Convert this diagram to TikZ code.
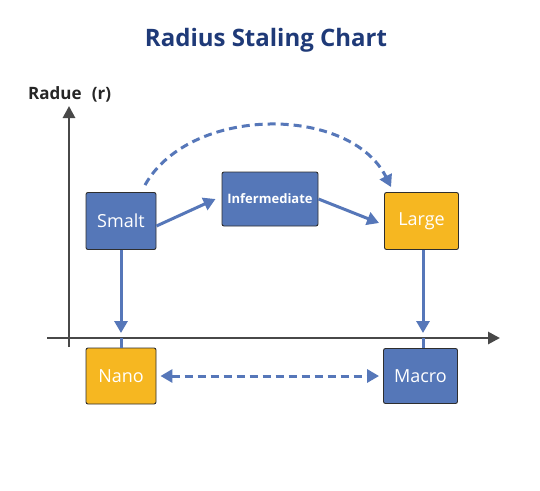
\documentclass[tikz,border=0pt]{standalone}
\usepackage{fontspec}
\setmainfont{Open Sans}
\usetikzlibrary{arrows.meta,calc}
\definecolor{boxblue}{HTML}{5577B8}
\definecolor{boxyellow}{HTML}{F6B721}
\definecolor{arrblue}{HTML}{5677B9}
\definecolor{titleblue}{HTML}{1F3A78}
\definecolor{axisgray}{HTML}{484848}
\definecolor{edgegray}{HTML}{2E2E2E}
\tikzset{
  card/.style={draw=edgegray, line width=0.9pt, rounded corners=2pt, text=white, inner sep=0pt, font=\fontsize{18}{20}\selectfont},
  bluecard/.style={card, fill=boxblue},
  yellowcard/.style={card, fill=boxyellow},
  flow/.style={draw=arrblue, line width=3pt, -{Triangle[length=12pt,width=13pt]}},
  dflow/.style={flow, dash pattern=on 8pt off 5pt},
  axisline/.style={draw=axisgray, line width=2.8pt, -{Triangle[length=12pt,width=12pt]}},
}
\begin{document}
\begin{tikzpicture}[x=1pt,y=-1pt]
\useasboundingbox[fill=white] (0,0) rectangle (540,490);
\node[font=\bfseries\fontsize{24}{28}\selectfont, text=titleblue] (title) at (266,40) {Radius Staling Chart};
\node[font=\bfseries\fontsize{17}{20}\selectfont, text=black!85, anchor=west, inner sep=0pt] (ylabel) at (28,94) {Radue\hspace{0.6em}(r)};
% axes
\coordinate (yb) at (69,347);
\coordinate (yt) at (69,106);
\coordinate (xl) at (47,338);
\coordinate (xr) at (500,338);
\draw[axisline] (yb) -- (yt);
\draw[axisline] (xl) -- (xr);
% boxes
\node[bluecard, minimum width=70pt, minimum height=57pt] (smalt) at (121,221) {Smalt};
\node[bluecard, minimum width=96pt, minimum height=54pt, font=\bfseries\fontsize{13}{15}\selectfont] (inter) at (270,199) {Infermediate};
\node[yellowcard, minimum width=74pt, minimum height=57pt] (large) at (421.5,221) {Large};
\node[yellowcard, minimum width=70pt, minimum height=56pt] (nano) at (121,376) {Nano};
\node[bluecard, minimum width=74pt, minimum height=55pt] (macro) at (420.5,376) {Macro};
% arrows
\draw[flow] ([yshift=-5pt]smalt.east) -- ([xshift=-6pt]inter.west);
\draw[flow] (inter.east) -- ([xshift=-5pt,yshift=-2pt]large.west);
\draw[dflow] ([xshift=24pt,yshift=7pt]smalt.north) .. controls (190,105) and (350,105) .. ([xshift=7pt,yshift=5pt]large.north west);
\coordinate (nanotip) at (121,333);
\coordinate (macrotip) at (423,333);
\coordinate (nanoax) at (121,338);
\coordinate (macroax) at (423,338);
\draw[flow] (smalt.south) -- (nanotip);
\draw[flow] (large.south -| macrotip) -- (macrotip);
\draw[draw=arrblue, line width=3pt] (nanoax) -- (nano.north);
\draw[draw=arrblue, line width=3pt] (macroax) -- (macro.north -| macroax);
\draw[dflow, {Triangle[length=12pt,width=13pt]}-{Triangle[length=12pt,width=13pt]}] ([xshift=4pt]nano.east) -- ([xshift=-4pt]macro.west);
\end{tikzpicture}
\end{document}
